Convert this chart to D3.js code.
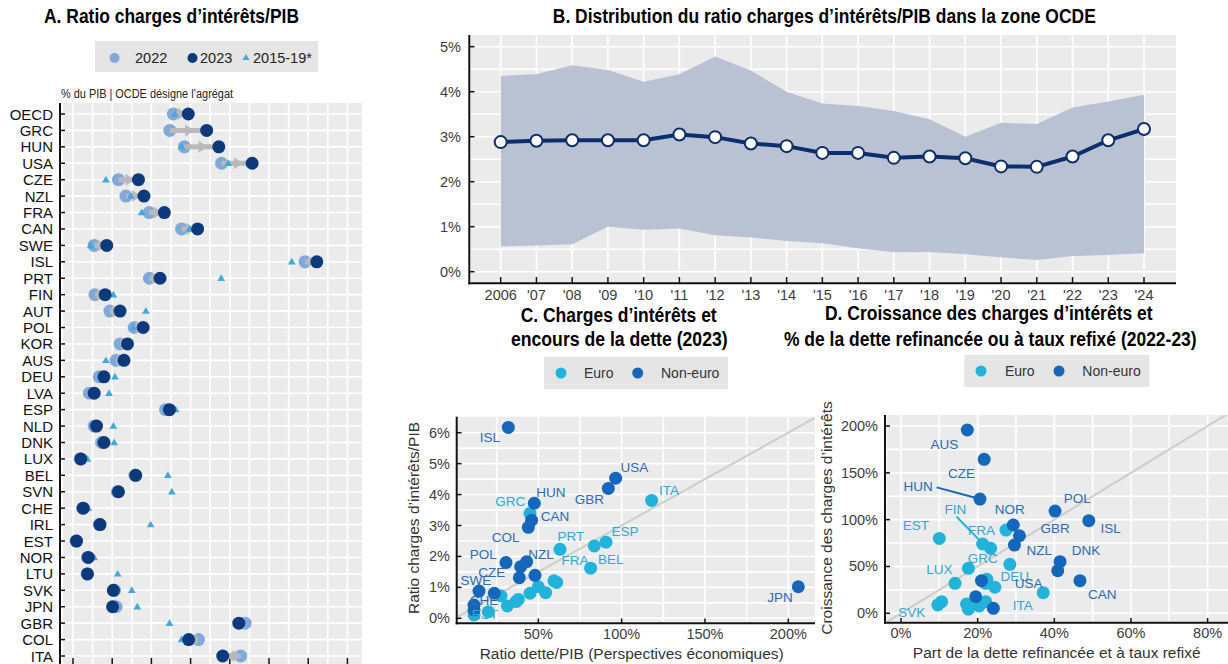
<!DOCTYPE html>
<html>
<head>
<meta charset="utf-8">
<script src="https://cdn.jsdelivr.net/npm/d3@7"></script>
<style>
  body { margin: 0; background: #fff; }
  text { font-family: "Liberation Sans", Arial, sans-serif; }
  .title { font-family: "Liberation Sans", Arial, sans-serif; font-weight: bold; font-size: 19.5px; fill: #000; }
  .tick { font-size: 14.5px; fill: #3c3c3c; }
  .axtitle { font-size: 15.5px; fill: #333; }
</style>
</head>
<body>
<svg id="chart" width="1228" height="664"></svg>
<script>
// ---- data: panel A ----
const countriesA = ["OECD","GRC","HUN","USA","CZE","NZL","FRA","CAN","SWE","ISL","PRT","FIN","AUT","POL","KOR","AUS","DEU","LVA","ESP","NLD","DNK","LUX","BEL","SVN","CHE","IRL","EST","NOR","LTU","SVK","JPN","GBR","COL","ITA"];
const ratio2022 = [2.56,2.47,2.84,3.79,1.16,1.35,1.94,2.77,0.54,5.92,1.95,0.56,0.94,1.56,1.20,1.10,0.67,0.42,2.36,0.54,0.73,0.18,1.58,1.13,0.25,0.67,0.08,0.37,0.36,1.06,1.10,4.39,3.20,4.28];
const ratio2023 = [2.94,3.41,3.72,4.57,1.67,1.81,2.33,3.18,0.86,6.22,2.22,0.82,1.20,1.79,1.39,1.30,0.79,0.54,2.46,0.60,0.79,0.20,1.60,1.16,0.26,0.69,0.09,0.39,0.37,1.03,1.01,4.23,2.95,3.82];
const ratio1519 = [2.60,3.40,2.77,3.96,0.84,1.47,1.75,2.97,0.45,5.58,3.78,1.03,1.86,1.54,1.30,0.84,1.07,0.92,2.62,1.03,1.05,0.37,2.42,2.52,0.39,1.98,0.10,0.54,1.14,1.50,1.64,2.46,2.77,3.84];
const legendA = ["2022", "2023", "2015-19*"];

// ---- data: panel B ----
const yearsB = [2006,2007,2008,2009,2010,2011,2012,2013,2014,2015,2016,2017,2018,2019,2020,2021,2022,2023,2024];
const yearLabelsB = ["2006","'07","'08","'09","'10","'11","'12","'13","'14","'15","'16","'17","'18","'19","'20","'21","'22","'23","'24"];
const medianB = [2.88,2.91,2.92,2.92,2.92,3.05,2.99,2.85,2.79,2.64,2.64,2.53,2.56,2.52,2.34,2.33,2.56,2.92,3.17];
const upperB  = [4.35,4.39,4.59,4.48,4.22,4.39,4.78,4.47,4.00,3.74,3.68,3.57,3.39,3.00,3.31,3.28,3.65,3.78,3.93];
const lowerB  = [0.56,0.58,0.61,1.00,0.93,0.96,0.81,0.76,0.68,0.63,0.52,0.43,0.44,0.39,0.32,0.26,0.35,0.37,0.41];

// ---- data: panel C (debt/GDP %, interest/GDP %) ----
const euroC = [[118,3.81],[45,3.39],[90.6,2.46],[83.6,2.34],[63,2.23],[81.4,1.62],[59.4,1.21],[61,1.16],[50,1.02],[54.4,0.83],[45,0.81],[38,0.61],[36.6,0.54],[27.6,0.72],[31.4,0.40],[20,0.21],[11.4,0.11]];
const nonEuroC = [[32,6.17],[96.4,4.53],[92,4.2],[47.6,3.72],[46,3.17],[44,2.94],[30.6,1.80],[43,1.83],[39.4,1.67],[38.6,1.31],[48,1.39],[14.4,0.88],[23.6,0.81],[11.4,0.43],[11.4,0.27],[206,1.02]];
const labelsC = [["ISL",21,5.85,0],["USA",107.6,4.88,0],["HUN",57.6,4.06,0],["GBR",80.6,3.85,0],["ITA",128.4,4.13,1],["GRC",33.2,3.76,1],["CAN",60,3.28,0],["COL",30.4,2.62,0],["PRT",69.6,2.63,1],["ESP",102,2.82,1],["POL",17,2.07,0],["NZL",51.6,2.07,0],["FRA",72,1.88,1],["BEL",93.4,1.91,1],["CZE",22,1.47,0],["SWE",12.6,1.21,0],["CHE",17.4,0.59,0],["EST",18,0.11,1],["JPN",195,0.67,0]];

// ---- data: panel D (share refinanced %, growth of interest %) ----
const euroD = [[10,80],[27.4,88.9],[21.3,74],[23.4,69.4],[17.6,48],[28.4,52.3],[14.1,32],[22.4,36.3],[22.1,32],[24.5,27.8],[37.1,22],[10.6,12.4],[9.6,8.9],[17.1,9.9],[17.6,4.3],[20.4,7.8],[22.1,12.4]];
const nonEuroD = [[17.3,195.7],[21.7,164.4],[20.6,122],[40.2,109.2],[49,98.9],[29.3,94.3],[30.9,82.8],[29.6,72.9],[41.5,55.1],[40.9,45.5],[46.7,34.8],[21,34.8],[19.5,17.7],[24.1,5.3]];
const labelsD = [["AUS",11.3,180.7,0],["CZE",15.8,149.5,0],["HUN",4.5,135.2,0],["POL",46,123.1,0],["NOR",28.4,111.3,0],["FIN",14.2,111.3,1],["EST",3.9,93.5,1],["FRA",21,88.2,1],["GBR",40.2,90.7,0],["ISL",54.7,90.7,0],["NZL",36.1,67.3,0],["DNK",48.3,67.3,0],["GRC",21.3,58,1],["LUX",10,47,1],["DEU",29.7,39.8,1],["USA",33.3,31.3,0],["CAN",52.5,20.6,0],["ITA",31.8,8.1,1],["SVK",2.8,1.1,1]];
const leadersD = [[9.3,134.5,20.6,122,0],[14.5,103.1,21.3,74.7,1]];
const groupNames = ["Euro", "Non-euro"];

// colours
const c2022 = "#80a8d9", c2023 = "#0c3a7c", cTri = "#45a8dc", cArrow = "#b9b9b9";
const cEuro = "#22b3da", cNonEuro = "#1467ba";
const labelColor = ["#2b6bb4", "#2fa8d4"];
const panelBg = "#ebebeb";

let chart = d3.select("#chart");

function pct(d) { return d + "%"; }

// narrow bold titles: squeeze to the width of the original condensed font
function title(x, y, w, txt) {
    chart.append("text").attr("class", "title")
        .attr("x", x - w / 2).attr("y", y)
        .attr("textLength", w).attr("lengthAdjust", "spacingAndGlyphs")
        .text(txt);
}

// ================= PANEL A =================
let xA = d3.scaleLinear().domain([0, 7]).range([73, 347.4]);
let yA = d3.scalePoint().domain(countriesA).range([114, 656]);

title(171.5, 23, 255, "A. Ratio charges d\u2019intérêts/PIB");

// legend A
chart.append("rect").attr("x", 95).attr("y", 41).attr("width", 223).attr("height", 31).attr("fill", "#e5e5e5");
chart.append("circle").attr("cx", 114.5).attr("cy", 58).attr("r", 5).attr("fill", c2022);
chart.append("circle").attr("cx", 192.5).attr("cy", 58).attr("r", 5).attr("fill", c2023);
chart.append("path").attr("transform", "translate(246,58)")
    .attr("d", d3.symbol(d3.symbolTriangle).size(22)()).attr("fill", cTri);
chart.selectAll("legA").data(legendA).enter().append("text")
    .attr("x", function(d, i) { return [135, 200, 253][i]; })
    .attr("y", 58).attr("dominant-baseline", "central")
    .style("font-size", "14.5px").style("fill", "#222")
    .text(function(d) { return d; });

chart.append("text").attr("x", 61).attr("y", 98)
    .attr("textLength", 172).attr("lengthAdjust", "spacingAndGlyphs")
    .style("font-size", "12.5px").style("fill", "#222")
    .text("% du PIB | OCDE désigne l\u2019agrégat");

chart.append("rect").attr("x", 63).attr("y", 103).attr("width", 299).attr("height", 565).attr("fill", panelBg);
chart.selectAll("gridAx").data(d3.range(0, 7.5, 0.5)).enter().append("line")
    .attr("x1", function(d) { return xA(d); }).attr("x2", function(d) { return xA(d); })
    .attr("y1", 103).attr("y2", 664).attr("stroke", "#fff").attr("stroke-width", 1.6);
chart.selectAll("gridAy").data(countriesA).enter().append("line")
    .attr("x1", 63).attr("x2", 362)
    .attr("y1", function(d) { return yA(d); }).attr("y2", function(d) { return yA(d); })
    .attr("stroke", "#fff").attr("stroke-width", 1.6);

// axis A
chart.append("line").attr("x1", 60).attr("x2", 60).attr("y1", 103).attr("y2", 664).attr("stroke", "#111").attr("stroke-width", 2);
chart.selectAll("tickAy").data(countriesA).enter().append("line")
    .attr("x1", 60).attr("x2", 65)
    .attr("y1", function(d) { return yA(d); }).attr("y2", function(d) { return yA(d); })
    .attr("stroke", "#111").attr("stroke-width", 1.5);
chart.selectAll("tickAx").data(d3.range(0, 8)).enter().append("line")
    .attr("x1", function(d) { return xA(d); }).attr("x2", function(d) { return xA(d); })
    .attr("y1", 658).attr("y2", 664).attr("stroke", "#111").attr("stroke-width", 1.5);
chart.selectAll("labA").data(countriesA).enter().append("text")
    .attr("x", 53).attr("y", function(d) { return yA(d); })
    .attr("text-anchor", "end").attr("dominant-baseline", "central")
    .style("font-size", "15px").style("fill", "#111")
    .text(function(d) { return d; });

// dots A
chart.selectAll("dot22").data(countriesA).enter().append("circle")
    .attr("cx", function(d, i) { return xA(ratio2022[i]); })
    .attr("cy", function(d) { return yA(d); })
    .attr("r", 6.5).attr("fill", c2022);

let arrowRows = countriesA.filter(function(d, i) { return Math.abs(ratio2023[i] - ratio2022[i]) > 0.15; });
chart.selectAll("arrowA").data(arrowRows).enter().append("line")
    .attr("x1", function(d) { return xA(ratio2022[countriesA.indexOf(d)]); })
    .attr("x2", function(d) { return xA(ratio2023[countriesA.indexOf(d)]); })
    .attr("y1", function(d) { return yA(d); }).attr("y2", function(d) { return yA(d); })
    .attr("stroke", cArrow).attr("stroke-width", 5);
chart.selectAll("arrowHeadA").data(arrowRows).enter().append("path")
    .attr("d", function(d) {
        let i = countriesA.indexOf(d);
        let a = xA(ratio2022[i]), b = xA(ratio2023[i]);
        let m = (a + b) / 2, s = b > a ? 1 : -1, y = yA(d);
        return "M" + (m + s * 6) + "," + y + "L" + (m - s * 3) + "," + (y - 6) + "L" + (m - s * 3) + "," + (y + 6) + "Z";
    })
    .attr("fill", cArrow);

chart.selectAll("triA").data(countriesA).enter().append("path")
    .attr("transform", function(d, i) { return "translate(" + xA(ratio1519[i]) + "," + (yA(d) + 0.5) + ")"; })
    .attr("d", d3.symbol(d3.symbolTriangle).size(26)())
    .attr("fill", cTri);

chart.selectAll("dot23").data(countriesA).enter().append("circle")
    .attr("cx", function(d, i) { return xA(ratio2023[i]); })
    .attr("cy", function(d) { return yA(d); })
    .attr("r", 6.5).attr("fill", c2023);

// ================= PANEL B =================
let xB = d3.scaleLinear().domain([2006, 2024]).range([500.7, 1144]);
let yB = d3.scaleLinear().domain([0, 5]).range([271.7, 46.7]);

title(824.3, 23, 543, "B. Distribution du ratio charges d\u2019intérêts/PIB dans la zone OCDE");

chart.append("rect").attr("x", 471).attr("y", 35).attr("width", 705).attr("height", 247).attr("fill", panelBg);
chart.selectAll("gridBy").data(d3.range(0, 5.5, 0.5)).enter().append("line")
    .attr("x1", 471).attr("x2", 1176)
    .attr("y1", function(d) { return yB(d); }).attr("y2", function(d) { return yB(d); })
    .attr("stroke", "#fff").attr("stroke-width", 1.6);
chart.selectAll("gridBx").data(yearsB).enter().append("line")
    .attr("x1", function(d) { return xB(d); }).attr("x2", function(d) { return xB(d); })
    .attr("y1", 35).attr("y2", 282)
    .attr("stroke", "#fff").attr("stroke-width", 1.6);

let bandData = yearsB.map(function(y, i) { return {year: y, lo: lowerB[i], hi: upperB[i], med: medianB[i]}; });
chart.append("path").datum(bandData)
    .attr("fill", "#b6c0d1").attr("fill-opacity", 0.95)
    .attr("d", d3.area()
        .x(function(d) { return xB(d.year); })
        .y0(function(d) { return yB(d.lo); })
        .y1(function(d) { return yB(d.hi); }));
chart.append("path").datum(bandData)
    .attr("fill", "none").attr("stroke", "#0b2e6d").attr("stroke-width", 4)
    .attr("d", d3.line()
        .x(function(d) { return xB(d.year); })
        .y(function(d) { return yB(d.med); }));
chart.selectAll("ptB").data(bandData).enter().append("circle")
    .attr("cx", function(d) { return xB(d.year); })
    .attr("cy", function(d) { return yB(d.med); })
    .attr("r", 6).attr("fill", "#fff").attr("stroke", "#0b2e6d").attr("stroke-width", 2);

chart.append("line").attr("x1", 469.3).attr("x2", 469.3).attr("y1", 35).attr("y2", 284.3).attr("stroke", "#111").attr("stroke-width", 2);
chart.append("line").attr("x1", 468.3).attr("x2", 1176).attr("y1", 283.3).attr("y2", 283.3).attr("stroke", "#111").attr("stroke-width", 2);
chart.selectAll("tickBy").data(d3.range(0, 6)).enter().append("line")
    .attr("x1", 469.3).attr("x2", 474.5)
    .attr("y1", function(d) { return yB(d); }).attr("y2", function(d) { return yB(d); })
    .attr("stroke", "#111").attr("stroke-width", 1.5);
chart.selectAll("tickBx").data(yearsB).enter().append("line")
    .attr("x1", function(d) { return xB(d); }).attr("x2", function(d) { return xB(d); })
    .attr("y1", 283.3).attr("y2", 277)
    .attr("stroke", "#111").attr("stroke-width", 1.5);
chart.selectAll("labBy").data(d3.range(0, 6)).enter().append("text")
    .attr("class", "tick")
    .attr("x", 461).attr("y", function(d) { return yB(d); })
    .attr("text-anchor", "end").attr("dominant-baseline", "central")
    .text(pct);
chart.selectAll("labBx").data(yearsB).enter().append("text")
    .attr("class", "tick")
    .attr("x", function(d) { return xB(d); }).attr("y", 295)
    .attr("text-anchor", "middle").attr("dominant-baseline", "central")
    .text(function(d, i) { return yearLabelsB[i]; });

// ================= legend helper for C and D =================
function groupLegend(x0, y0, w, h, cx1, tx1, cx2, tx2) {
    chart.append("rect").attr("x", x0).attr("y", y0).attr("width", w).attr("height", h).attr("fill", "#e5e5e5");
    let cy = y0 + h / 2;
    chart.append("circle").attr("cx", cx1).attr("cy", cy).attr("r", 5.5).attr("fill", cEuro);
    chart.append("circle").attr("cx", cx2).attr("cy", cy).attr("r", 5.5).attr("fill", cNonEuro);
    chart.selectAll("legG").data(groupNames).enter().append("text")
        .attr("x", function(d, i) { return i === 0 ? tx1 : tx2; })
        .attr("y", cy).attr("dominant-baseline", "central")
        .style("font-size", "14px").style("fill", "#333")
        .text(function(d) { return d; });
}

// ================= PANEL C =================
let xC = d3.scaleLinear().domain([0, 200]).range([455, 788.3]);
let yC = d3.scaleLinear().domain([0, 6]).range([618.3, 432.7]);

title(618.7, 321.5, 196, "C. Charges d\u2019intérêts et");
title(619.3, 345.5, 216.7, "encours de la dette (2023)");
groupLegend(544, 357, 184, 32, 561, 584, 637.7, 661);

chart.append("rect").attr("x", 458).attr("y", 416.7).attr("width", 357).attr("height", 205).attr("fill", panelBg);
chart.append("clipPath").attr("id", "clipC").append("rect")
    .attr("x", 458).attr("y", 416.7).attr("width", 357).attr("height", 205);
chart.selectAll("gridCy").data(d3.range(0, 6.5, 0.5)).enter().append("line")
    .attr("x1", 458).attr("x2", 815)
    .attr("y1", function(d) { return yC(d); }).attr("y2", function(d) { return yC(d); })
    .attr("stroke", "#fff").attr("stroke-width", 1.6);
chart.selectAll("gridCx").data(d3.range(25, 225, 25)).enter().append("line")
    .attr("x1", function(d) { return xC(d); }).attr("x2", function(d) { return xC(d); })
    .attr("y1", 416.7).attr("y2", 621.7)
    .attr("stroke", "#fff").attr("stroke-width", 1.6);
chart.append("line").attr("clip-path", "url(#clipC)")
    .attr("x1", xC(0)).attr("y1", yC(0)).attr("x2", xC(230)).attr("y2", yC(6.9))
    .attr("stroke", "#cfcfcf").attr("stroke-width", 2.2);

chart.selectAll("ptCe").data(euroC).enter().append("circle")
    .attr("cx", function(d) { return xC(d[0]); }).attr("cy", function(d) { return yC(d[1]); })
    .attr("r", 6.5).attr("fill", cEuro);
chart.selectAll("ptCn").data(nonEuroC).enter().append("circle")
    .attr("cx", function(d) { return xC(d[0]); }).attr("cy", function(d) { return yC(d[1]); })
    .attr("r", 6.5).attr("fill", cNonEuro);
chart.selectAll("labC").data(labelsC).enter().append("text")
    .attr("x", function(d) { return xC(d[1]); }).attr("y", function(d) { return yC(d[2]); })
    .attr("text-anchor", "middle").attr("dominant-baseline", "central")
    .style("font-size", "13.5px").style("fill", function(d) { return labelColor[d[3]]; })
    .text(function(d) { return d[0]; });

chart.append("line").attr("x1", 456.7).attr("x2", 456.7).attr("y1", 416.7).attr("y2", 624.3).attr("stroke", "#111").attr("stroke-width", 2);
chart.append("line").attr("x1", 455.7).attr("x2", 815).attr("y1", 623.3).attr("y2", 623.3).attr("stroke", "#111").attr("stroke-width", 2);
chart.selectAll("tickCy").data(d3.range(0, 7)).enter().append("line")
    .attr("x1", 456.7).attr("x2", 461.5)
    .attr("y1", function(d) { return yC(d); }).attr("y2", function(d) { return yC(d); })
    .attr("stroke", "#111").attr("stroke-width", 1.5);
chart.selectAll("tickCx").data([50, 100, 150, 200]).enter().append("line")
    .attr("x1", function(d) { return xC(d); }).attr("x2", function(d) { return xC(d); })
    .attr("y1", 623.3).attr("y2", 618.5)
    .attr("stroke", "#111").attr("stroke-width", 1.5);
chart.selectAll("labCy").data(d3.range(0, 7)).enter().append("text")
    .attr("class", "tick").attr("x", 450).attr("y", function(d) { return yC(d); })
    .attr("text-anchor", "end").attr("dominant-baseline", "central").text(pct);
chart.selectAll("labCx").data([50, 100, 150, 200]).enter().append("text")
    .attr("class", "tick").attr("x", function(d) { return xC(d); }).attr("y", 634)
    .attr("text-anchor", "middle").attr("dominant-baseline", "central").text(pct);
chart.append("text").attr("class", "axtitle").attr("x", 631.7).attr("y", 653)
    .attr("text-anchor", "middle").attr("dominant-baseline", "central")
    .text("Ratio dette/PIB (Perspectives économiques)");
chart.append("text").attr("class", "axtitle")
    .attr("transform", "translate(413,518) rotate(-90)")
    .attr("text-anchor", "middle").attr("dominant-baseline", "central")
    .text("Ratio charges d\u2019intérêts/PIB");

// ================= PANEL D =================
let xD = d3.scaleLinear().domain([0, 80]).range([901, 1207.6]);
let yD = d3.scaleLinear().domain([0, 200]).range([613.3, 426]);

title(988.8, 319.5, 327.7, "D. Croissance des charges d\u2019intérêts et");
title(990.3, 345.5, 412.7, "% de la dette refinancée ou à taux refixé (2022-23)");
groupLegend(964.3, 355, 185, 32, 981, 1005, 1059, 1082.3);

chart.append("rect").attr("x", 887).attr("y", 415).attr("width", 341).attr("height", 206.5).attr("fill", panelBg);
chart.append("clipPath").attr("id", "clipD").append("rect")
    .attr("x", 887).attr("y", 415).attr("width", 341).attr("height", 206.5);
chart.selectAll("gridDy").data(d3.range(0, 225, 25)).enter().append("line")
    .attr("x1", 887).attr("x2", 1228)
    .attr("y1", function(d) { return yD(d); }).attr("y2", function(d) { return yD(d); })
    .attr("stroke", "#fff").attr("stroke-width", 1.6);
chart.selectAll("gridDx").data(d3.range(0, 90, 10)).enter().append("line")
    .attr("x1", function(d) { return xD(d); }).attr("x2", function(d) { return xD(d); })
    .attr("y1", 415).attr("y2", 621.5)
    .attr("stroke", "#fff").attr("stroke-width", 1.6);
chart.append("line").attr("clip-path", "url(#clipD)")
    .attr("x1", xD(-6)).attr("y1", yD(-15)).attr("x2", xD(90)).attr("y2", yD(225))
    .attr("stroke", "#cfcfcf").attr("stroke-width", 2.2);

chart.selectAll("leadD").data(leadersD).enter().append("line")
    .attr("x1", function(d) { return xD(d[0]); }).attr("y1", function(d) { return yD(d[1]); })
    .attr("x2", function(d) { return xD(d[2]); }).attr("y2", function(d) { return yD(d[3]); })
    .attr("stroke", function(d) { return d[4] ? cEuro : cNonEuro; }).attr("stroke-width", 2);
chart.selectAll("ptDe").data(euroD).enter().append("circle")
    .attr("cx", function(d) { return xD(d[0]); }).attr("cy", function(d) { return yD(d[1]); })
    .attr("r", 6.5).attr("fill", cEuro);
chart.selectAll("ptDn").data(nonEuroD).enter().append("circle")
    .attr("cx", function(d) { return xD(d[0]); }).attr("cy", function(d) { return yD(d[1]); })
    .attr("r", 6.5).attr("fill", cNonEuro);
chart.selectAll("labD").data(labelsD).enter().append("text")
    .attr("x", function(d) { return xD(d[1]); }).attr("y", function(d) { return yD(d[2]); })
    .attr("text-anchor", "middle").attr("dominant-baseline", "central")
    .style("font-size", "13.5px").style("fill", function(d) { return labelColor[d[3]]; })
    .text(function(d) { return d[0]; });

chart.append("line").attr("x1", 885).attr("x2", 885).attr("y1", 415).attr("y2", 623.7).attr("stroke", "#111").attr("stroke-width", 2);
chart.append("line").attr("x1", 884).attr("x2", 1228).attr("y1", 622.7).attr("y2", 622.7).attr("stroke", "#111").attr("stroke-width", 2);
chart.selectAll("tickDy").data(d3.range(0, 250, 50)).enter().append("line")
    .attr("x1", 885).attr("x2", 890)
    .attr("y1", function(d) { return yD(d); }).attr("y2", function(d) { return yD(d); })
    .attr("stroke", "#111").attr("stroke-width", 1.5);
chart.selectAll("tickDx").data(d3.range(0, 100, 20)).enter().append("line")
    .attr("x1", function(d) { return xD(d); }).attr("x2", function(d) { return xD(d); })
    .attr("y1", 622.7).attr("y2", 618)
    .attr("stroke", "#111").attr("stroke-width", 1.5);
chart.selectAll("labDy").data(d3.range(0, 250, 50)).enter().append("text")
    .attr("class", "tick").attr("x", 878).attr("y", function(d) { return yD(d); })
    .attr("text-anchor", "end").attr("dominant-baseline", "central").text(pct);
chart.selectAll("labDx").data(d3.range(0, 100, 20)).enter().append("text")
    .attr("class", "tick").attr("x", function(d) { return xD(d); }).attr("y", 633)
    .attr("text-anchor", "middle").attr("dominant-baseline", "central").text(pct);
chart.append("text").attr("class", "axtitle").attr("x", 1056.7).attr("y", 652)
    .attr("text-anchor", "middle").attr("dominant-baseline", "central")
    .text("Part de la dette refinancée et à taux refixé");
chart.append("text").attr("class", "axtitle")
    .attr("transform", "translate(826.7,518) rotate(-90)")
    .attr("text-anchor", "middle").attr("dominant-baseline", "central")
    .text("Croissance des charges d\u2019intérêts");
</script>
</body>
</html>
